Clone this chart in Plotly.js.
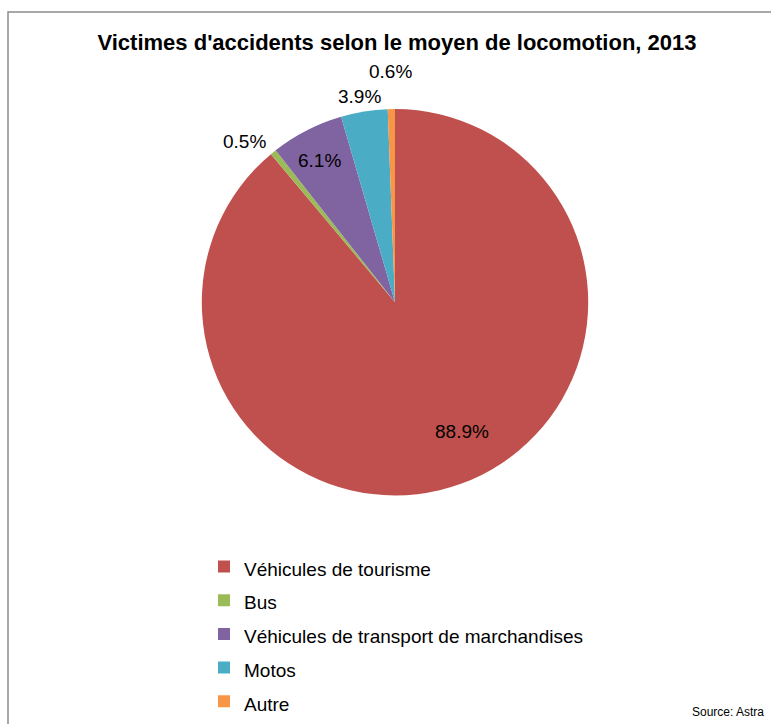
<!DOCTYPE html>
<html>
<head>
<meta charset="utf-8">
<script src="https://cdn.plot.ly/plotly-3.0.1.min.js"></script>
<style>html,body{margin:0;padding:0;background:#fff;}#chart{width:771px;height:724px;}</style>
</head>
<body>
<div id="chart"></div>
<script>
// ---- data ----
const categories = ["Véhicules de tourisme", "Bus", "Véhicules de transport de marchandises", "Motos", "Autre"];
const values = [88.9, 0.5, 6.1, 3.9, 0.6];

// ---- styles / label placement (not data) ----
const colors = ["#C0504D", "#9BBB59", "#8064A2", "#4BACC6", "#F79646"];
const labelDist = [146, 194, 159, 194, 194];          // px from pie centre along slice mid-angle
const labelShift = [[17, -6], [-28, -9], [-3, 1], [-5, -14], [-1, -36]]; // px nudges

const W = 771, H = 724;
const cx = 395, cy = 302, r = 194;
const FONT = "Liberation Sans, Arial, sans-serif";

const total = values.reduce((a, b) => a + b, 0);
let cum = 0;
const annotations = values.map((v, i) => {
  const theta = (cum + v / 2) / total * 2 * Math.PI;
  cum += v;
  const px = cx + labelDist[i] * Math.sin(theta) + labelShift[i][0];
  const py = cy - labelDist[i] * Math.cos(theta) + labelShift[i][1];
  return {
    text: (v / total * 100).toFixed(1) + "%",
    xref: "paper", yref: "paper",
    x: px / W, y: 1 - py / H, xanchor: "center", yanchor: "middle",
    showarrow: false, font: {family: FONT, size: 19, color: "#000"}
  };
});
annotations.push({
  text: "Source: Astra", xref: "paper", yref: "paper",
  x: 766 / W, xanchor: "right", y: 1 - 715 / H, yanchor: "middle",
  showarrow: false, font: {family: FONT, size: 12, color: "#000"}
});

const trace = {
  type: "pie",
  labels: categories.map(c => '<span style="font-size:19px">' + c + '</span>'),
  values: values,
  sort: false,
  direction: "clockwise",
  rotation: 0,
  marker: {colors: colors, line: {width: 0}},
  textinfo: "none",
  hoverinfo: "label+percent",
  domain: {x: [(cx - r) / W, (cx + r) / W], y: [(H - cy - 1.5 - r) / H, (H - cy - 1.5 + r) / H]}
};

const layout = {
  width: W, height: H,
  margin: {l: 0, r: 0, t: 0, b: 0},
  paper_bgcolor: "#fff",
  font: {family: FONT, color: "#000"},
  title: {
    text: "<b>Victimes d'accidents selon le moyen de locomotion, 2013</b>",
    font: {size: 22, family: FONT, color: "#000"},
    x: 397 / W, xanchor: "center", y: 1 - 42 / H, yanchor: "middle"
  },
  showlegend: true,
  legend: {
    x: 204 / W, xanchor: "left", y: 1 - 547 / H, yanchor: "top",
    orientation: "v",
    font: {size: 23.6, color: "#000"},
    bgcolor: "rgba(0,0,0,0)"
  },
  shapes: [{
    type: "rect", xref: "paper", yref: "paper",
    x0: 8 / W, x1: 1.02, y0: -0.02, y1: 1 - 12 / H,
    line: {color: "#8c8c8c", width: 1.5}, fillcolor: "rgba(0,0,0,0)"
  }],
  annotations: annotations
};

Plotly.newPlot("chart", [trace], layout, {displayModeBar: false, staticPlot: true});
</script>
</body>
</html>
